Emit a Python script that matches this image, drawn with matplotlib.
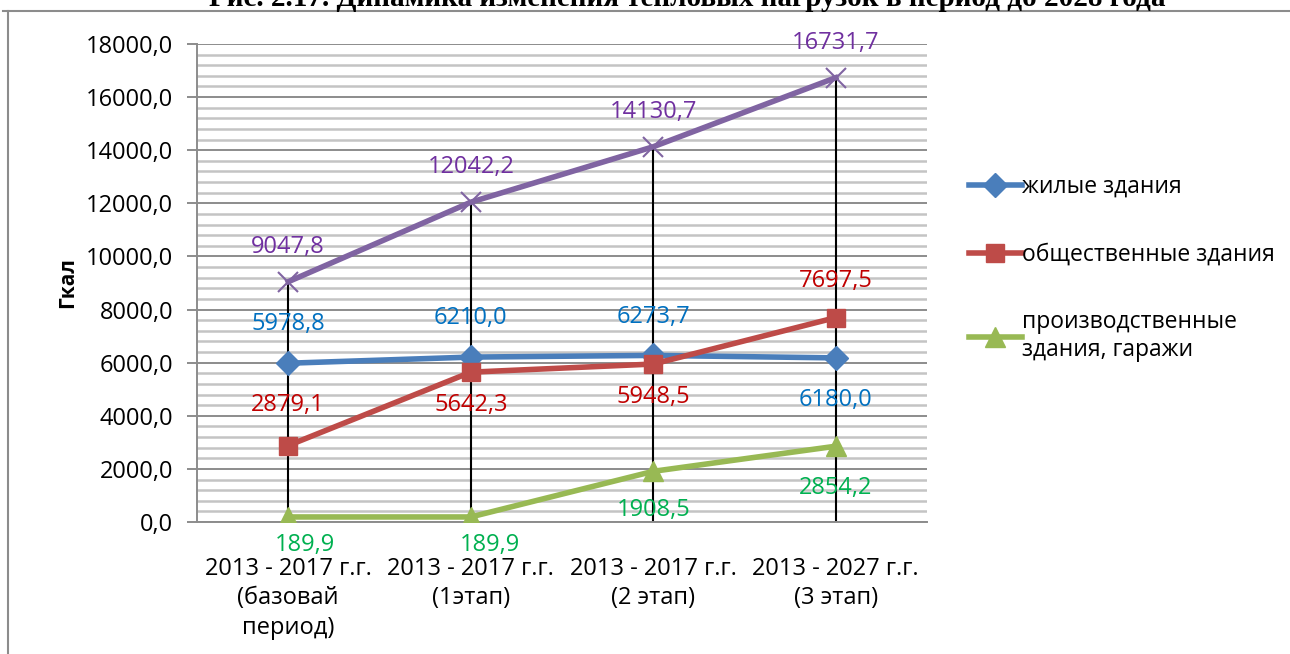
import matplotlib.pyplot as plt
from matplotlib.lines import Line2D

plt.rcParams['font.family'] = ['Open Sans', 'DejaVu Sans']

categories = ['2013 - 2017 г.г.\n(базовай\nпериод)', '2013 - 2017 г.г.\n(1этап)',
              '2013 - 2017 г.г.\n(2 этап)', '2013 - 2027 г.г.\n(3 этап)']
zhilye = [5978.8, 6210.0, 6273.7, 6180.0]
obshch = [2879.1, 5642.3, 5948.5, 7697.5]
proizv = [189.9, 189.9, 1908.5, 2854.2]
itogo = [9047.8, 12042.2, 14130.7, 16731.7]

fig = plt.figure(figsize=(12.9, 6.54), dpi=100)
ax = fig.add_axes([197 / 1290, 1 - 522 / 654, 730 / 1290, 478 / 654])

x = list(range(len(categories)))
ax.set_xlim(-0.5, len(categories) - 0.5)
ax.set_ylim(0, 18000)

# grid
for v in range(0, 18001, 400):
    if v % 2000 == 0:
        ax.axhline(v, color='#8c8c8c', lw=1.4, zorder=1)
    else:
        ax.axhline(v, color='#c4c4c4', lw=1.8, zorder=1)

# drop lines
ax.vlines(x, 0, itogo, color='black', lw=1.5, zorder=2)

ax.plot(x, itogo, color='#8064A2', lw=4, marker='x', ms=15, mew=1.5, zorder=3)
ax.plot(x, zhilye, color='#4A7EBB', lw=4, marker='D', ms=12, zorder=4, label='жилые здания')
ax.plot(x, obshch, color='#BE4B48', lw=4, marker='s', ms=13, zorder=4, label='общественные здания')
ax.plot(x, proizv, color='#98B954', lw=4, marker='^', ms=14, zorder=4, label='производственные\nздания, гаражи')

fs = 17
fmt = lambda v: f'{v:.1f}'.replace('.', ',')
for i, v in enumerate(itogo):
    ax.annotate(fmt(v), (i, v), xytext=(0, 25), textcoords='offset points',
                ha='center', va='center', color='#7030A0', fontsize=fs)
blue_off = [28, 28, 28, -30]
for i, v in enumerate(zhilye):
    ax.annotate(fmt(v), (i, v), xytext=(0, blue_off[i]), textcoords='offset points',
                ha='center', va='center', color='#0070C0', fontsize=fs)
red_off = [29, -24, -24, 26]
for i, v in enumerate(obshch):
    ax.annotate(fmt(v), (i, v), xytext=(0, red_off[i]), textcoords='offset points',
                ha='center', va='center', color='#C00000', fontsize=fs)
green_off = [(12, -20), (14, -20), (0, -28), (0, -30)]
for i, v in enumerate(proizv):
    ax.annotate(fmt(v), (i, v), xytext=green_off[i], textcoords='offset points',
                ha='center', va='center', color='#00B050', fontsize=fs)

ax.set_xticks(x)
ax.set_xticklabels(categories, fontsize=17, linespacing=1.3)
ax.tick_params(axis='x', length=0, pad=25)
ax.set_yticks(range(0, 18001, 2000))
ax.set_yticklabels([f'{v},0' for v in range(0, 18001, 2000)], fontsize=17)
ax.tick_params(axis='y', length=7, color='#8c8c8c', width=1.4, pad=10)
ax.set_ylabel('Гкал', fontsize=15, fontweight='bold', labelpad=6)

for s in ['top', 'right']:
    ax.spines[s].set_visible(False)
ax.spines['left'].set_color('#8c8c8c')
ax.spines['left'].set_linewidth(1.4)
ax.spines['bottom'].set_color('#8c8c8c')
ax.spines['bottom'].set_linewidth(1.4)

ax.legend(loc='upper left', bbox_to_anchor=(1.045, 0.745), frameon=False, fontsize=16.5,
          handlelength=2.3, handletextpad=0.0, labelspacing=1.9, borderaxespad=0)

# frame and clipped title
fig.add_artist(Line2D([3 / 1290, 1], [1 - 11 / 654, 1 - 11 / 654], color='#8c8c8c', lw=1.5))
fig.add_artist(Line2D([8 / 1290, 8 / 1290], [0, 1 - 11 / 654], color='#8c8c8c', lw=1.5))
fig.text(0.533, 1 - 6 / 654, 'Рис. 2.17. Динамика изменения тепловых нагрузок в период до 2028 года',
         ha='center', va='baseline', fontsize=21, fontweight='bold', family='Liberation Serif')

fig.savefig('out.png', dpi=100)
